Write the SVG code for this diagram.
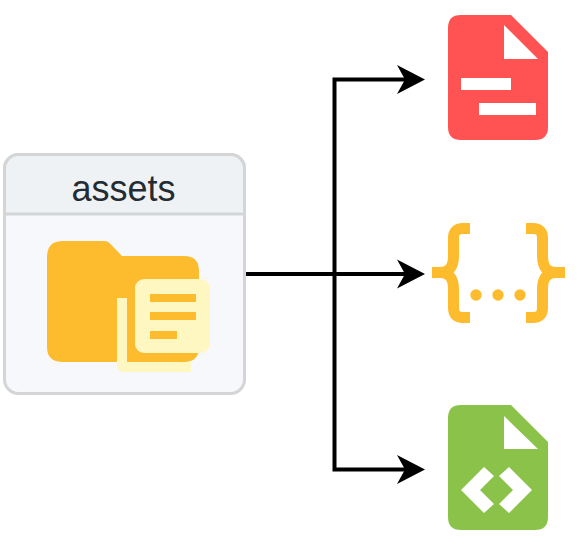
<svg xmlns="http://www.w3.org/2000/svg" width="579" height="554" viewBox="0 0 579 554">
<style>
.conn{fill:none;stroke:#000;stroke-width:4}
.head{fill:#000}
.card{fill:#f6f8fb;stroke:#d3d5d7;stroke-width:3}
.w{fill:#fff}
.y{fill:#fdbc2d}
.p{fill:#fff7c2}
</style>
<rect width="579" height="554" fill="#fff"/>
<g id="connectors">
<path class="conn" d="M246 274H408"/>
<path class="conn" d="M408 79.500H334.500V469.500H408"/>
<path class="head" d="M425 79.500L397 65L405 79.500L397 94Z"/>
<path class="head" d="M425 274L397 259.500L405 274L397 288.500Z"/>
<path class="head" d="M425 469.500L397 455L405 469.500L397 484Z"/>
</g>
<g id="assets">
<rect class="card" x="4.500" y="154.500" width="240" height="239" rx="14"/>
<path d="M4.500 214V168.500a14 14 0 0 1 14-14h212a14 14 0 0 1 14 14V214Z" fill="#eff2f5" stroke="#d3d5d7" stroke-width="3"/>
<text x="123.500" y="201" font-family="Liberation Sans, Arial, sans-serif" font-size="36" fill="#232b33" text-anchor="middle">assets</text>
<path class="y" d="M63 241H104Q108 241 110.500 244L122 256H184Q199 256 199 271V347Q199 362 184 362H63Q47 362 47 347V257Q47 241 63 241Z"/>
<path class="p" d="M117 298H127V362H191V372H124Q117 372 117 365Z"/>
<rect class="p" x="135" y="279" width="75" height="74" rx="9"/>
<path class="y" d="M150 294H196V302H150ZM150 312H196V320H150ZM150 331H177V339H150Z"/>
</g>
<g id="pdf-file">
<path d="M461 15H511L548 52V127Q548 140 535 140H461Q448 140 448 127V28Q448 15 461 15Z" fill="#ff5252"/>
<path class="w" d="M504 25V59H538ZM461 78H511V90H461ZM479 103H536V115H479Z"/>
</g>
<g id="json-file">
<path d="M470 228.500H463Q453.500 228.500 453.500 238V256Q453.500 272.500 440 272.500H432M470 317.500H463Q453.500 317.500 453.500 308V289Q453.500 272.500 440 272.500M526 228.500H533Q542.500 228.500 542.500 238V256Q542.500 272.500 556 272.500H565M526 317.500H533Q542.500 317.500 542.500 308V289Q542.500 272.500 556 272.500" fill="none" stroke="#fdbc2d" stroke-width="11"/>
<circle class="y" cx="476" cy="295" r="5.700"/>
<circle class="y" cx="498" cy="295" r="5.700"/>
<circle class="y" cx="520" cy="295" r="5.700"/>
</g>
<g id="html-file">
<path d="M461 405H511L548 442V517Q548 530 535 530H461Q448 530 448 517V418Q448 405 461 405Z" fill="#8bc34a"/>
<path class="w" d="M504 416V449H538Z"/>
<path class="w" d="M484 467L494 476L480 490L494 504L484 513L461 490ZM509 467L499 476L513 490L499 504L509 513L532 490Z"/>
</g>
</svg>
